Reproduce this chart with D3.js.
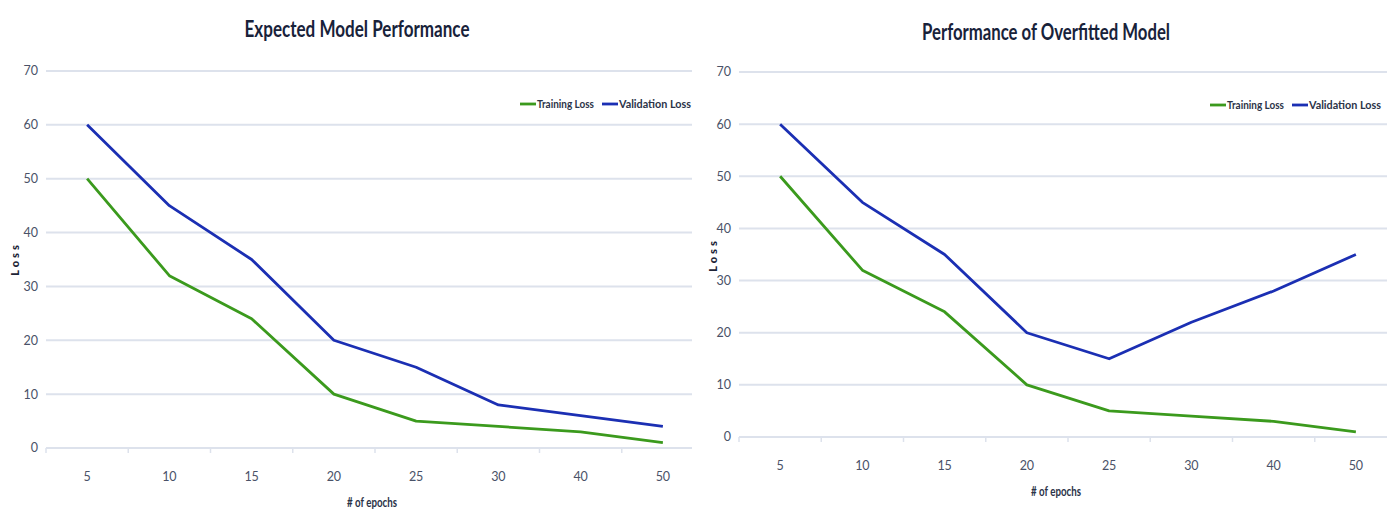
<!DOCTYPE html>
<html>
<head>
  <meta charset="utf-8">
  <title>Model Performance</title>
  <script src="https://d3js.org/d3.v7.min.js"></script>
</head>

<style>
  body {
    margin: 0;
    background: #fff;
  }

  text {
    font-family: Lato, 'Open Sans', sans-serif;
  }

  .grid line {
    stroke: #dde2ec;
    stroke-width: 2;
  }

  .tick-label {
    fill: #4a5268;
    font-size: 12.5px;
  }
</style>

<body>
  <svg id="chart" width="1395" height="515"></svg>

  <script>
    var epochs = ["5", "10", "15", "20", "25", "30", "40", "50"];
    var yTicks = [0, 10, 20, 30, 40, 50, 60, 70];

    // left chart
    var expectedTraining = [50, 32, 24, 10, 5, 4, 3, 1];
    var expectedValidation = [60, 45, 35, 20, 15, 8, 6, 4];

    // right chart
    var overfitTraining = [50, 32, 24, 10, 5, 4, 3, 1];
    var overfitValidation = [60, 45, 35, 20, 15, 22, 28, 35];

    var seriesNames = ["Training Loss", "Validation Loss"];
    var colors = ["#3b9a1d", "#1b2fb3"];

    var svg = d3.select("#chart");

    // condense text to the width seen in the original (Calibri-like)
    function squeeze(sel, len) {
      sel.attr("textLength", len).attr("lengthAdjust", "spacingAndGlyphs");
    }

    function drawChart(opt) {
      var g = svg.append("g");

      var x = d3.scaleBand().domain(epochs).range([opt.left, opt.right]);
      var y = d3.scaleLinear().domain([0, 70]).range([opt.bottom, opt.top]);

      // title
      g.append("text")
          .attr("x", opt.titleX)
          .attr("y", opt.titleY)
          .attr("text-anchor", "middle")
          .style("font-size", "23px")
          .style("font-weight", "700")
          .style("fill", "#18223a")
          .text(opt.title)
          .call(squeeze, opt.titleLen);

      // gridlines
      g.append("g").attr("class", "grid")
        .selectAll("line")
        .data(yTicks)
        .enter().append("line")
          .attr("x1", opt.left)
          .attr("x2", opt.gridRight)
          .attr("y1", function(d) { return y(d); })
          .attr("y2", function(d) { return y(d); });

      // category tick marks at band edges
      var edges = epochs.map(function(e) { return x(e); }).concat([x(epochs[epochs.length - 1]) + x.bandwidth()]);
      g.append("g")
        .selectAll("line")
        .data(edges.filter(function(d) { return d <= opt.gridRight + 1; }))
        .enter().append("line")
          .attr("x1", function(d) { return d; })
          .attr("x2", function(d) { return d; })
          .attr("y1", y(0))
          .attr("y2", y(0) + 5)
          .style("stroke", "#dde2ec")
          .style("stroke-width", 1.5);

      // y tick labels
      g.append("g")
        .selectAll("text")
        .data(yTicks)
        .enter().append("text")
          .attr("class", "tick-label")
          .attr("x", opt.left - 8)
          .attr("y", function(d) { return y(d); })
          .attr("dy", "0.35em")
          .attr("text-anchor", "end")
          .text(function(d) { return d; });

      // x tick labels
      g.append("g")
        .selectAll("text")
        .data(epochs)
        .enter().append("text")
          .attr("class", "tick-label")
          .attr("x", function(d) { return x(d) + x.bandwidth() / 2; })
          .attr("y", y(0) + 33)
          .attr("text-anchor", "middle")
          .text(function(d) { return d; });

      // axis titles
      g.append("text")
          .attr("x", opt.xTitleX)
          .attr("y", y(0) + 59)
          .attr("text-anchor", "middle")
          .style("font-size", "13px")
          .style("font-weight", "700")
          .style("fill", "#2b3348")
          .text("# of epochs")
          .call(squeeze, 50);

      g.append("text")
          .attr("transform", "translate(" + opt.yTitleX + "," + opt.yTitleY + ") rotate(-90)")
          .attr("text-anchor", "middle")
          .style("font-size", "11px")
          .style("font-weight", "900")
          .style("letter-spacing", "3px")
          .style("fill", "#1e2436")
          .text("Loss");

      // lines
      var line = d3.line()
        .x(function(d, i) { return x(epochs[i]) + x.bandwidth() / 2; })
        .y(function(d) { return y(d); });

      [opt.training, opt.validation].forEach(function(vals, k) {
        g.append("path")
            .datum(vals)
            .attr("d", line)
            .style("fill", "none")
            .style("stroke", colors[k])
            .style("stroke-width", 2.8)
            .style("stroke-linejoin", "round");
      });

      // legend
      var legend = g.append("g")
        .attr("transform", "translate(" + opt.legendX + "," + opt.legendY + ")");

      var offsets = [0, 82];
      var textLens = [57, 72];
      seriesNames.forEach(function(name, k) {
        var item = legend.append("g").attr("transform", "translate(" + offsets[k] + ",0)");
        item.append("line")
            .attr("x1", 0).attr("x2", 16)
            .attr("y1", 0).attr("y2", 0)
            .style("stroke", colors[k])
            .style("stroke-width", 2.8);
        item.append("text")
            .attr("x", 17)
            .attr("dy", "0.35em")
            .style("font-size", "12px")
            .style("font-weight", "700")
            .style("fill", "#2b3348")
            .text(name)
            .call(squeeze, textLens[k]);
      });
    }

    drawChart({
      title: "Expected Model Performance",
      titleX: 357, titleY: 37, titleLen: 225,
      left: 46, right: 704, gridRight: 692,
      top: 71, bottom: 448,
      xTitleX: 372,
      yTitleX: 19, yTitleY: 259,
      legendX: 520, legendY: 104,
      training: expectedTraining,
      validation: expectedValidation
    });

    drawChart({
      title: "Performance of Overfitted Model",
      titleX: 1046, titleY: 40, titleLen: 248,
      left: 739, right: 1397, gridRight: 1387,
      top: 72, bottom: 437,
      xTitleX: 1056,
      yTitleX: 717, yTitleY: 255,
      legendX: 1210, legendY: 105,
      training: overfitTraining,
      validation: overfitValidation
    });
  </script>
</body>
</html>
